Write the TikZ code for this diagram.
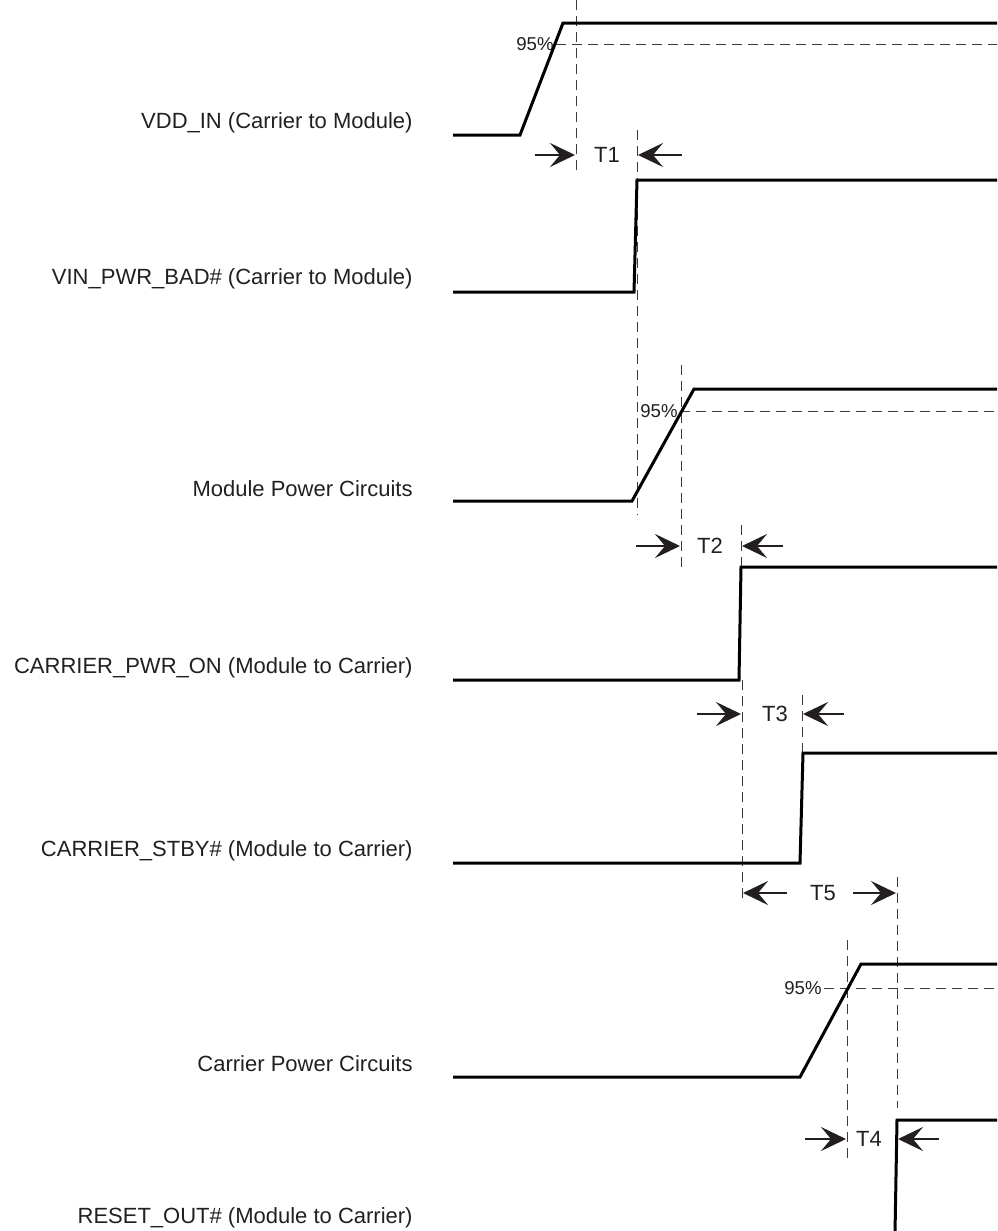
\documentclass[tikz,border=0pt]{standalone}
\usepackage{fontspec}
\setmainfont{Liberation Sans}
\usetikzlibrary{arrows.meta,positioning,calc}
\definecolor{wfInk}{HTML}{000000}
\definecolor{wfText}{HTML}{231F20}
\definecolor{wfGuide}{HTML}{3A3A3A}
\tikzset{
  wave/.style     ={draw=wfInk,line width=1.5pt,line join=miter},
  guide/.style    ={draw=wfGuide,line width=0.5pt,dash pattern=on 5pt off 3pt},
  signame/.style  ={anchor=east,inner sep=0pt,font=\fontsize{11}{13}\selectfont,text=wfText},
  pct/.style      ={anchor=east,inner sep=1pt,font=\fontsize{9.3}{11}\selectfont,text=wfText},
  tlbl/.style     ={inner sep=0pt,font=\fontsize{11}{13}\selectfont,text=wfText},
  tarrow/.style   ={-{Stealth[length=12.5pt,width=12pt,inset=5pt]},draw=wfText,fill=wfText,
                    line width=1.3pt},
}

\begin{document}
\begin{tikzpicture}[x=0.5pt,y=-0.5pt]
\useasboundingbox (0,0) rectangle (997,1231);

%% signal names
\node[signame] (nVdd)   at (413,123)  {VDD\_IN (Carrier to Module)};
\node[signame] (nBad)   at (413,279)  {VIN\_PWR\_BAD\# (Carrier to Module)};
\node[signame] (nMod)   at (413,489)  {Module Power Circuits};
\node[signame] (nCpo)   at (413,668)  {CARRIER\_PWR\_ON (Module to Carrier)};
\node[signame] (nStby)  at (413,851)  {CARRIER\_STBY\# (Module to Carrier)};
\node[signame] (nCar)   at (413,1064) {Carrier Power Circuits};
\node[signame] (nRst)   at (413,1218) {RESET\_OUT\# (Module to Carrier)};

%% guides
\draw[guide] (576,0)    -- (576,175);
\draw[guide] (637,130)  -- (637,515);
\draw[guide] (681,365)  -- (681,568);
\draw[guide] (741,525)  -- (741,567);
\draw[guide] (742,680)  -- (742,903);
\draw[guide] (802,695)  -- (802,752);
\draw[guide] (897,877)  -- (897,1108);
\draw[guide] (847,940)  -- (847,1162);

%% 95% levels
\node[pct] (pVdd) at (556,44)  {95\%};
\node[pct] (pMod) at (680,411) {95\%};
\node[pct] (pCar) at (824,988) {95\%};
\draw[guide] (pVdd.east) -- (997,44);
\draw[guide] (pMod.east) -- (997,411);
\draw[guide] (pCar.east) -- (997,988);

%% waveforms
\draw[wave] (453,135)  -- (520,135)  -- (563,23)   -- (997,23);
\draw[wave] (453,292)  -- (634,292)  -- (637,180)  -- (997,180);
\draw[wave] (453,501)  -- (632,501)  -- (694,389)  -- (997,389);
\draw[wave] (453,680)  -- (739,680)  -- (741,567)  -- (997,567);
\draw[wave] (453,863)  -- (800,863)  -- (803,753)  -- (997,753);
\draw[wave] (453,1077) -- (800,1077) -- (861,964)  -- (997,964);
\draw[wave] (453,1233) -- (895,1233) -- (897,1120) -- (997,1120);

%% timing marks
\node[tlbl] (t1) at (607,155)  {T1};
\draw[tarrow] (535,155) -- (575,155);
\draw[tarrow] (682,155) -- (638,155);

\node[tlbl] (t2) at (710,546)  {T2};
\draw[tarrow] (636,546) -- (680,546);
\draw[tarrow] (783,546) -- (742,546);

\node[tlbl] (t3) at (775,714)  {T3};
\draw[tarrow] (697,714) -- (741,714);
\draw[tarrow] (844,714) -- (803,714);

\node[tlbl] (t5) at (823,893)  {T5};
\draw[tarrow] (787,893) -- (743,893);
\draw[tarrow] (853,893) -- (896,893);

\node[tlbl] (t4) at (869,1139) {T4};
\draw[tarrow] (805,1139) -- (846,1139);
\draw[tarrow] (939,1139) -- (898,1139);
\end{tikzpicture}
\end{document}
